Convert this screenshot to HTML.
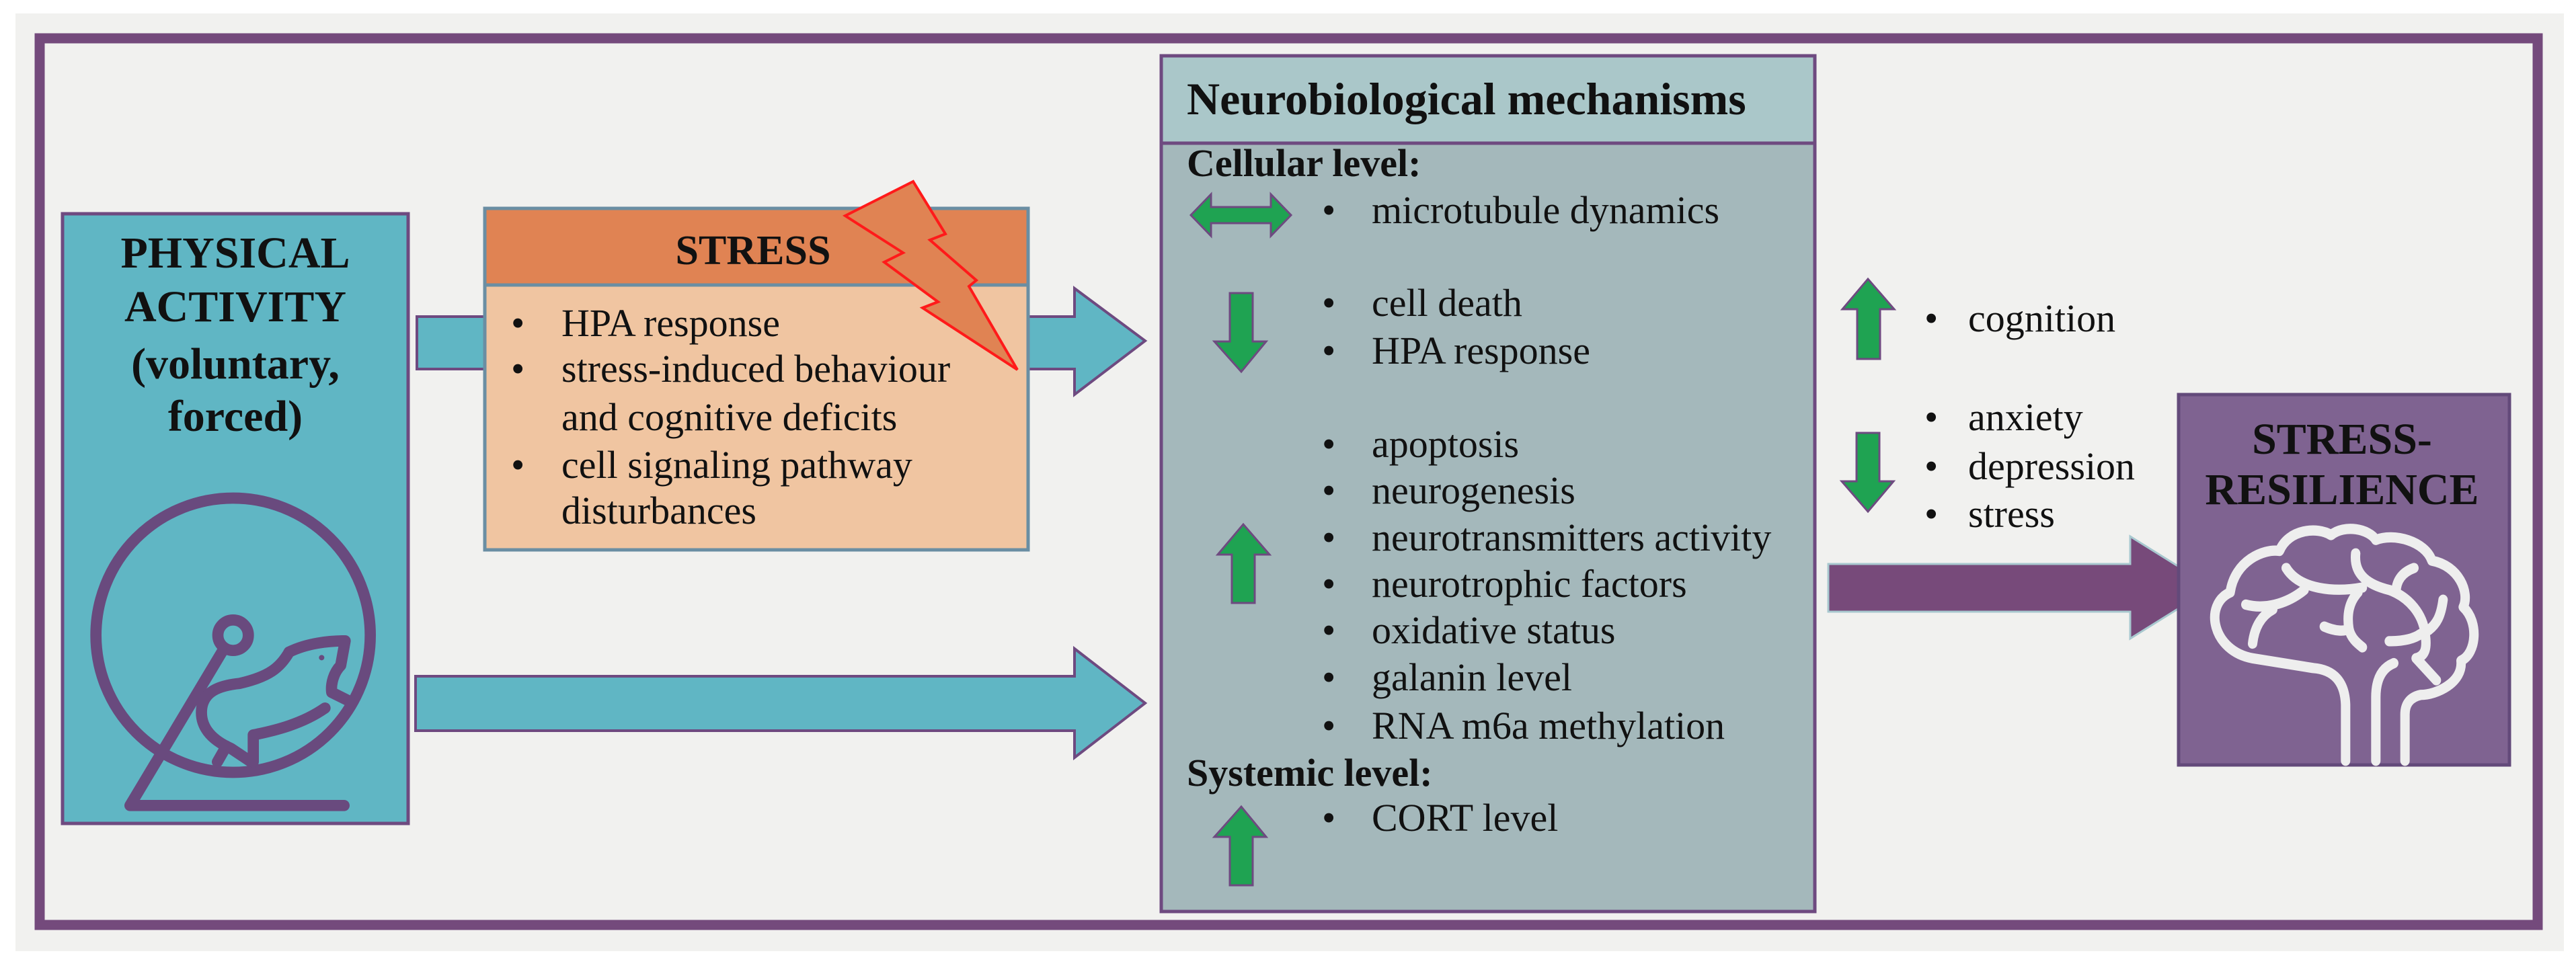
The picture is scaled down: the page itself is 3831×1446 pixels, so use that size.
<!DOCTYPE html>
<html><head><meta charset="utf-8"><style>
html,body{margin:0;padding:0;background:#fff;}
svg{display:block;}
text{font-family:"Liberation Serif",serif;fill:#111;}
.b{font-weight:bold;}
</style></head><body>
<svg width="3831" height="1446" viewBox="0 0 3831 1446" xmlns="http://www.w3.org/2000/svg">
<rect x="23" y="20" width="3790" height="1395" fill="#f1f1ef"/>
<rect x="59" y="57" width="3715" height="1319" fill="none" stroke="#744a7c" stroke-width="15"/>

<rect x="93" y="318" width="514" height="907" fill="#60b6c4" stroke="#6e4a80" stroke-width="5"/>
<g font-size="66" text-anchor="middle">
<text x="350" y="398" class="b">PHYSICAL</text>
<text x="350" y="478" class="b">ACTIVITY</text>
<text x="350" y="563" class="b">(voluntary,</text>
<text x="350" y="641" class="b">forced)</text>
</g>
<g transform="translate(90,700) scale(0.33333)" fill="none" stroke="#694a7e" stroke-width="50" stroke-linecap="round" stroke-linejoin="round">
<circle cx="770" cy="735" r="612"/>
<circle cx="770" cy="735" r="68"/>
<path d="M720 810 L310 1495 L1265 1495"/>
<path d="M1020 810 C1100 770 1200 760 1270 760 L1250 870 C1220 900 1205 950 1210 990 L1290 1030"/>
<path d="M1020 810 C980 880 930 920 800 950 C700 960 640 990 630 1060 C620 1140 670 1200 760 1240 L850 1300"/>
<path d="M860 1300 L860 1180 C960 1160 1080 1130 1180 1060"/>
<path d="M700 1300 L740 1230"/>
<circle cx="1165" cy="835" r="12" fill="#694a7e" stroke="none"/>
</g>

<polygon points="620,471 1598,471 1598,429 1703,507 1598,587 1598,549 620,549" fill="#60b6c4" stroke="#6e4a80" stroke-width="4"/>
<polygon points="618,1006 1598,1006 1598,965 1703,1046 1598,1127 1598,1087 618,1087" fill="#60b6c4" stroke="#6e4a80" stroke-width="4"/>

<rect x="721" y="310" width="808" height="508" fill="#f0c5a1" stroke="#6a8ea3" stroke-width="5"/>
<rect x="721" y="310" width="808" height="114" fill="#e08353" stroke="#6a8ea3" stroke-width="5"/>
<text x="1120" y="393" font-size="62" text-anchor="middle" class="b">STRESS</text>
<g font-size="58">
<text x="760" y="500">•</text><text x="835" y="500">HPA response</text>
<text x="760" y="568">•</text><text x="835" y="568">stress-induced behaviour</text>
<text x="835" y="640">and cognitive deficits</text>
<text x="760" y="711">•</text><text x="835" y="711">cell signaling pathway</text>
<text x="835" y="779">disturbances</text>
</g>
<polygon points="1358,270 1257,321 1343,376 1315,390 1395,449 1372,458 1513,550 1441,426 1452,417 1383,357 1406,348" fill="#e08353" stroke="#ff1a1a" stroke-width="4"/>

<rect x="1727" y="83" width="972" height="1273" fill="#a4b8bb" stroke="#6e4a80" stroke-width="5"/>
<rect x="1727" y="83" width="972" height="130" fill="#aac7c9" stroke="#6e4a80" stroke-width="5"/>
<text x="1765" y="170" font-size="68" class="b">Neurobiological mechanisms</text>
<text x="1765" y="262" font-size="58" class="b">Cellular level:</text>
<text x="1765" y="1169" font-size="58" class="b">Systemic level:</text>
<g font-size="58">
<text x="1966" y="332">•</text><text x="2040" y="332">microtubule dynamics</text>
<text x="1966" y="470">•</text><text x="2040" y="470">cell death</text>
<text x="1966" y="541">•</text><text x="2040" y="541">HPA response</text>
<text x="1966" y="680">•</text><text x="2040" y="680">apoptosis</text>
<text x="1966" y="749">•</text><text x="2040" y="749">neurogenesis</text>
<text x="1966" y="819">•</text><text x="2040" y="819">neurotransmitters activity</text>
<text x="1966" y="888">•</text><text x="2040" y="888">neurotrophic factors</text>
<text x="1966" y="957">•</text><text x="2040" y="957">oxidative status</text>
<text x="1966" y="1027">•</text><text x="2040" y="1027">galanin level</text>
<text x="1966" y="1099">•</text><text x="2040" y="1099">RNA m6a methylation</text>
<text x="1966" y="1236">•</text><text x="2040" y="1236">CORT level</text>
</g>
<g fill="#1fa352" stroke="#6e4a80" stroke-width="3">
<polygon points="1771,320 1801,289 1801,308 1890,308 1890,289 1920,320 1890,351 1890,332 1801,332 1801,351"/>
<polygon points="1829,436 1863,436 1863,508 1883,508 1846,553 1806,508 1829,508"/>
<polygon points="1832,897 1866,897 1866,825 1888,825 1849,780 1811,825 1832,825"/>
<polygon points="1829,1317 1863,1317 1863,1245 1883,1245 1846,1200 1806,1245 1829,1245"/>
<polygon points="2762,534 2796,534 2796,460 2817,460 2778,415 2740,460 2762,460"/>
<polygon points="2761,644 2795,644 2795,716 2816,716 2778,761 2739,716 2761,716"/>
</g>
<g font-size="58">
<text x="2862" y="493">•</text><text x="2927" y="493">cognition</text>
<text x="2862" y="640">•</text><text x="2927" y="640">anxiety</text>
<text x="2862" y="713">•</text><text x="2927" y="713">depression</text>
<text x="2862" y="784">•</text><text x="2927" y="784">stress</text>
</g>

<polygon points="2719,839 3168,839 3168,798 3290,874 3168,950 3168,910 2719,910" fill="#774a7a" stroke="#a8c8cf" stroke-width="3"/>

<rect x="3240" y="587" width="492" height="551" fill="#7f6391" stroke="#634a7a" stroke-width="5"/>
<text x="3483" y="675" font-size="66" text-anchor="middle" class="b">STRESS-</text>
<text x="3483" y="750" font-size="66" text-anchor="middle" class="b">RESILIENCE</text>
<g transform="translate(3240,580) scale(0.33333,0.363)" fill="none" stroke="#eeeeee" stroke-width="42" stroke-linecap="round" stroke-linejoin="round">
<path d="M745 1520 L745 1290 Q740 1150 600 1140 L330 1100 C150 1070 110 880 230 830 C250 700 380 650 450 660 C490 570 620 560 680 595 C740 550 850 570 880 615 C960 585 1100 620 1130 700 C1250 720 1300 830 1270 890 C1340 950 1330 1080 1260 1110 C1270 1200 1150 1250 1080 1250 C1030 1260 1010 1290 1010 1330 L1010 1520"/>
<path d="M880 1520 L880 1260 Q880 1150 960 1120"/>
<path d="M480 730 C540 820 700 830 820 810"/>
<path d="M790 670 C780 760 850 800 940 820 C1030 850 1090 920 1100 1000 C1110 1060 1100 1090 1060 1100"/>
<path d="M300 880 C380 900 480 880 560 820"/>
<path d="M330 1040 C340 960 380 920 420 900"/>
<path d="M800 830 C760 870 750 920 760 980 C770 1020 800 1040 820 1055"/>
<path d="M650 970 C700 990 740 990 760 980"/>
<path d="M1050 730 C990 750 970 790 970 830"/>
<path d="M1180 860 C1170 930 1150 960 1115 985"/>
<path d="M940 1030 C1000 1030 1050 1020 1080 1000"/>
<path d="M1060 1100 L1150 1190"/>
</g>
</svg>
</body></html>
